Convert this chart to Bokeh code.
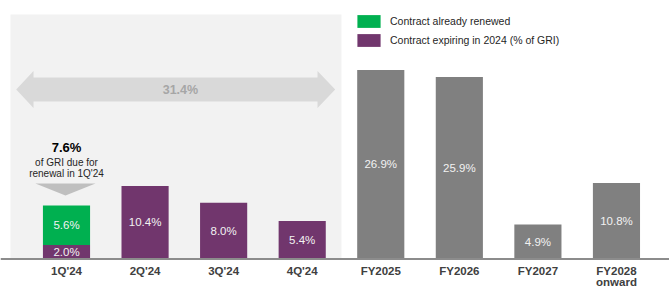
from bokeh.plotting import figure
from bokeh.models import Range1d, ColumnDataSource, Span, Legend, LegendItem
from bokeh.core.properties import value
from bokeh.embed import file_html
from bokeh.resources import INLINE

# ---- data ----
quarters = ["1Q'24", "2Q'24", "3Q'24", "4Q'24"]
expiring_2024 = [2.0, 10.4, 8.0, 5.4]      # Contract expiring in 2024 (% of GRI)
already_renewed = [5.6, 0.0, 0.0, 0.0]     # Contract already renewed
years = ["FY2025", "FY2026", "FY2027", "FY2028\nonward"]
year_values = [26.9, 25.9, 4.9, 10.8]
total_2024 = "31.4%"
q1_due = "7.6%"

FONT = "Liberation Sans"
GREEN = "#00b050"
PURPLE = "#71366d"
GREY = "#808080"

categories = quarters + years
xq = list(range(len(quarters)))
xy = [len(quarters) + i for i in range(len(years))]

p = figure(width=669, height=287, output_backend="svg", toolbar_location=None,
           x_range=Range1d(-0.840, 7.675), y_range=Range1d(-4.054, 36.77),
           min_border_left=0, min_border_right=0, min_border_top=0, min_border_bottom=0,
           outline_line_color=None, background_fill_color="white", border_fill_color="white")
p.xaxis.visible = False
p.yaxis.visible = False
p.xgrid.visible = False
p.ygrid.visible = False

# shaded 2024 region
p.quad(left=[-0.713], right=[len(quarters) - 0.5], bottom=[0], top=[34.78],
       fill_color="#f2f2f2", line_color=None)

# double-headed arrow for the 2024 total
ay = 24.11
sh = 1.7
hh = 2.63
ax = [-0.64, -0.42, -0.42, 3.195, 3.195, 3.42, 3.195, 3.195, -0.42, -0.42]
ayy = [ay, ay + hh, ay + sh, ay + sh, ay + hh, ay, ay - hh, ay - sh, ay - sh, ay - hh]
p.patch(ax, ayy, fill_color="#d9d9d9", line_color=None)
p.text(x=[1.45], y=[ay], text=[total_2024], text_align="center", text_baseline="middle",
       text_font=value(FONT), text_font_size="12.5px", text_font_style="bold", text_color="#a6a6a6")

# bars
qsrc = ColumnDataSource(dict(x=xq, exp=expiring_2024, ren=already_renewed,
                             ren_bottom=expiring_2024,
                             ren_top=[a + b for a, b in zip(expiring_2024, already_renewed)]))
r_exp = p.vbar(x="x", top="exp", bottom=0, width=0.6, source=qsrc, fill_color=PURPLE, line_color=None)
r_ren = p.vbar(x="x", top="ren_top", bottom="ren_bottom", width=0.6, source=qsrc,
               fill_color=GREEN, line_color=None)
p.vbar(x=xy, top=year_values, bottom=0, width=0.6, fill_color=GREY, line_color=None)

# value labels (centred in each segment)
lx, ly, lt = [], [], []
for x, e, r in zip(xq, expiring_2024, already_renewed):
    lx.append(x); ly.append(e / 2); lt.append(f"{e:.1f}%")
    if r > 0:
        lx.append(x); ly.append(e + r / 2); lt.append(f"{r:.1f}%")
for x, v in zip(xy, year_values):
    lx.append(x); ly.append(v / 2); lt.append(f"{v:.1f}%")
p.text(x=lx, y=ly, text=lt, text_align="center", text_baseline="middle",
       text_font=value(FONT), text_font_size="11.5px", text_color="#f2f2f2")

# 1Q'24 callout
q1_top = expiring_2024[0] + already_renewed[0]
p.patch([-0.395, 0.369, -0.013], [q1_top + 3.15, q1_top + 3.15, q1_top + 1.45],
        fill_color="#bfbfbf", line_color=None)
p.text(x=[0], y=[15.86], text=[q1_due], text_align="center", text_baseline="middle",
       text_font=value(FONT), text_font_size="13px", text_font_style="bold", text_color="#000000")
p.text(x=[0, 0], y=[13.73, 12.16], text=["of GRI due for", "renewal in 1Q'24"],
       text_align="center", text_baseline="middle",
       text_font=value(FONT), text_font_size="10px", text_color="#262626")

# baseline
p.add_layout(Span(location=0, dimension="width", line_color="#8c8c8c", line_width=2))

# category labels
p.text(x=xq + xy, y=[0] * len(categories), text=categories, y_offset=6,
       text_align="center", text_baseline="top", text_line_height=0.88,
       text_font=value(FONT), text_font_size="11.5px", text_font_style="bold", text_color="#404040")

legend = Legend(items=[LegendItem(label="Contract already renewed", renderers=[r_ren]),
                       LegendItem(label="Contract expiring in 2024 (% of GRI)", renderers=[r_exp])],
                location=(354, 239), orientation="vertical",
                glyph_width=29, glyph_height=16, label_height=16, spacing=3,
                label_standoff=7, padding=0, margin=0,
                border_line_alpha=0, background_fill_alpha=0,
                label_text_font=FONT, label_text_font_size="10.5px", label_text_color="#262626")
p.add_layout(legend)

open("out.html", "w").write(file_html(p, INLINE))
